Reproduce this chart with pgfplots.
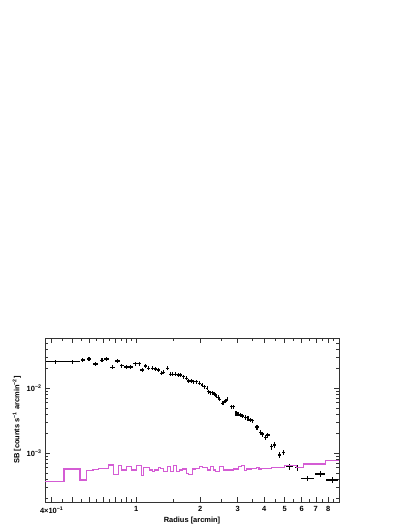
\documentclass[border=0pt]{standalone}
\usepackage{pgfplots}
\usepackage{pgfplotstable}
\pgfplotsset{compat=1.18}
\usepackage{fontspec}
\setmainfont{Liberation Sans}
\definecolor{bkgcol}{RGB}{212,92,212}

% surface brightness profile: r, SB, rel. x err, rel. y err
\pgfplotstableread{
x      y         ex     ey
0.418  0.02564   0.100  0.07
0.500  0.02564   0.090  0.07
0.561  0.02725   0.025  0.07
0.599  0.02823   0.025  0.07
0.644  0.02365   0.025  0.07
0.690  0.02696   0.025  0.07
0.723  0.02823   0.025  0.07
0.772  0.02104   0.025  0.07
0.814  0.02630   0.025  0.07
0.856  0.02227   0.025  0.07
0.898  0.02127   0.025  0.07
0.940  0.02127   0.025  0.07
0.989  0.02390   0.025  0.07
1.033  0.02390   0.020  0.07
1.067  0.01912   0.020  0.07
1.106  0.02203   0.018  0.07
1.146  0.02031   0.015  0.07
1.189  0.02031   0.015  0.07
1.232  0.01981   0.015  0.07
1.277  0.01912   0.015  0.07
1.315  0.01701   0.015  0.07
1.348  0.01763   0.015  0.07
1.398  0.02031   0.015  0.07
1.449  0.01642   0.015  0.07
1.485  0.01642   0.015  0.07
1.529  0.01642   0.015  0.07
1.575  0.01602   0.015  0.07
1.620  0.01602   0.015  0.07
1.673  0.01508   0.015  0.07
1.717  0.01425   0.015  0.07
1.766  0.01295   0.015  0.07
1.818  0.01295   0.015  0.07
1.864  0.01263   0.015  0.07
1.919  0.01263   0.015  0.07
1.983  0.01194   0.015  0.07
2.041  0.01124   0.015  0.07
2.093  0.01058   0.015  0.07
2.154  0.01000   0.015  0.07
2.192  0.00886   0.015  0.07
2.233  0.00856   0.015  0.07
2.289  0.00856   0.015  0.07
2.339  0.00817   0.015  0.07
2.375  0.00761   0.015  0.07
2.427  0.00727   0.015  0.07
2.469  0.00677   0.015  0.07
2.534  0.00588   0.015  0.07
2.578  0.00601   0.015  0.07
2.626  0.00638   0.015  0.07
2.675  0.00677   0.015  0.07
2.802  0.00521   0.015  0.08
2.872  0.00521   0.015  0.08
2.948  0.00413   0.015  0.08
3.012  0.00402   0.015  0.08
3.088  0.00388   0.015  0.08
3.166  0.00375   0.015  0.08
3.261  0.00358   0.015  0.08
3.357  0.00346   0.015  0.08
3.441  0.00325   0.015  0.08
3.528  0.00317   0.015  0.08
3.700  0.00254   0.018  0.09
3.834  0.00207   0.018  0.09
3.930  0.00198   0.018  0.09
4.046  0.00176   0.018  0.09
4.166  0.00191   0.018  0.09
4.317  0.00126   0.018  0.10
4.474  0.00134   0.018  0.10
4.708  0.000941  0.018  0.10
4.932  0.001036  0.018  0.10
5.262  0.000622  0.040  0.10
5.763  0.000601  0.035  0.10
6.421  0.000413  0.068  0.10
7.333  0.000480  0.055  0.10
8.375  0.000388  0.066  0.10
}\sbdata

% background level, left bin edges
\pgfplotstableread{
x       y
0.372   3.66e-4
0.457   5.73e-4
0.5435  3.88e-4
0.581   5.40e-4
0.6255  5.59e-4
0.6675  5.88e-4
0.7436  6.61e-4
0.7850  4.75e-4
0.8259  6.45e-4
0.8556  5.53e-4
0.8976  6.22e-4
0.9535  5.53e-4
1.000   6.45e-4
1.0555  4.52e-4
1.0855  6.00e-4
1.1582  5.53e-4
1.1889  5.21e-4
1.2187  5.53e-4
1.2767  6.00e-4
1.3004  5.88e-4
1.3390  5.21e-4
1.3979  6.22e-4
1.4488  5.21e-4
1.5013  6.45e-4
1.5460  5.21e-4
1.6021  5.53e-4
1.6444  5.73e-4
1.7227  4.92e-4
1.7657  4.75e-4
1.8322  5.73e-4
1.8987  5.88e-4
1.9889  6.22e-4
2.0413  6.00e-4
2.1544  5.53e-4
2.2331  6.22e-4
2.2993  5.53e-4
2.3573  5.21e-4
2.4694  6.22e-4
2.5785  5.53e-4
2.8723  5.73e-4
3.0215  6.22e-4
3.1311  6.45e-4
3.2241  5.40e-4
3.3058  5.73e-4
3.4895  5.88e-4
3.6836  6.09e-4
3.7808  5.73e-4
3.8885  5.88e-4
4.3305  6.09e-4
5.0059  6.45e-4
5.6754  6.09e-4
6.1017  6.85e-4
7.7661  7.69e-4
9.0     7.69e-4
}\bkgdata

\begin{document}
\begin{tikzpicture}[x=1bp,y=1bp]
\path[use as bounding box] (0,0) rectangle (407,527);
\begin{axis}[
    at={(45bp,25bp)}, anchor=south west,
    width=294bp, height=164bp, scale only axis,
    xmode=log, ymode=log,
    xmin=0.372, xmax=9.0,
    ymin=1.78e-4, ymax=0.0594,
    axis line style={line width=0.8pt, black!80},
    tick align=inside,
    major tick length=5bp, minor tick length=3bp,
    tick style={line width=0.6pt, black!80},
    xtick={0.4,0.5,0.6,0.7,0.8,0.9,1,2,3,4,5,6,7,8},
    xticklabels={4×10\textsuperscript{−1},,,,,,1,2,3,4,5,6,7,8},
    minor xtick={0.45,0.55,0.65,0.75,0.85,0.95,1.5,2.5,3.5,4.5,5.5,6.5,7.5,8.5},
    ytick={1e-3,1e-2},
    yticklabels={10\textsuperscript{−3},10\textsuperscript{−2}},
    minor ytick={2e-4,3e-4,4e-4,5e-4,6e-4,7e-4,8e-4,9e-4,2e-3,3e-3,4e-3,5e-3,6e-3,7e-3,8e-3,9e-3,2e-2,3e-2,4e-2,5e-2},
    tick label style={font=\bfseries\fontsize{7.5}{8}\selectfont},
    xticklabel style={yshift=-1bp},
    xlabel={Radius [arcmin]},
    ylabel={SB [counts s\textsuperscript{−1} arcmin\textsuperscript{−2}]},
    label style={font=\bfseries\fontsize{7.5}{9}\selectfont},
    xlabel style={yshift=3bp},
    ylabel style={yshift=-1bp},
    clip=true,
  ]
  \addplot[draw=none, mark=none,
    error bars/.cd,
      x dir=both, x explicit relative,
      y dir=both, y explicit relative,
      error mark=none,
      error bar style={draw=black, line width=1.1pt},
  ] table[x=x, y=y, x error=ex, y error=ey] {\sbdata};
  \addplot[const plot, draw=bkgcol, line width=1.1pt] table[x=x, y=y] {\bkgdata};
\end{axis}
\end{tikzpicture}
\end{document}
